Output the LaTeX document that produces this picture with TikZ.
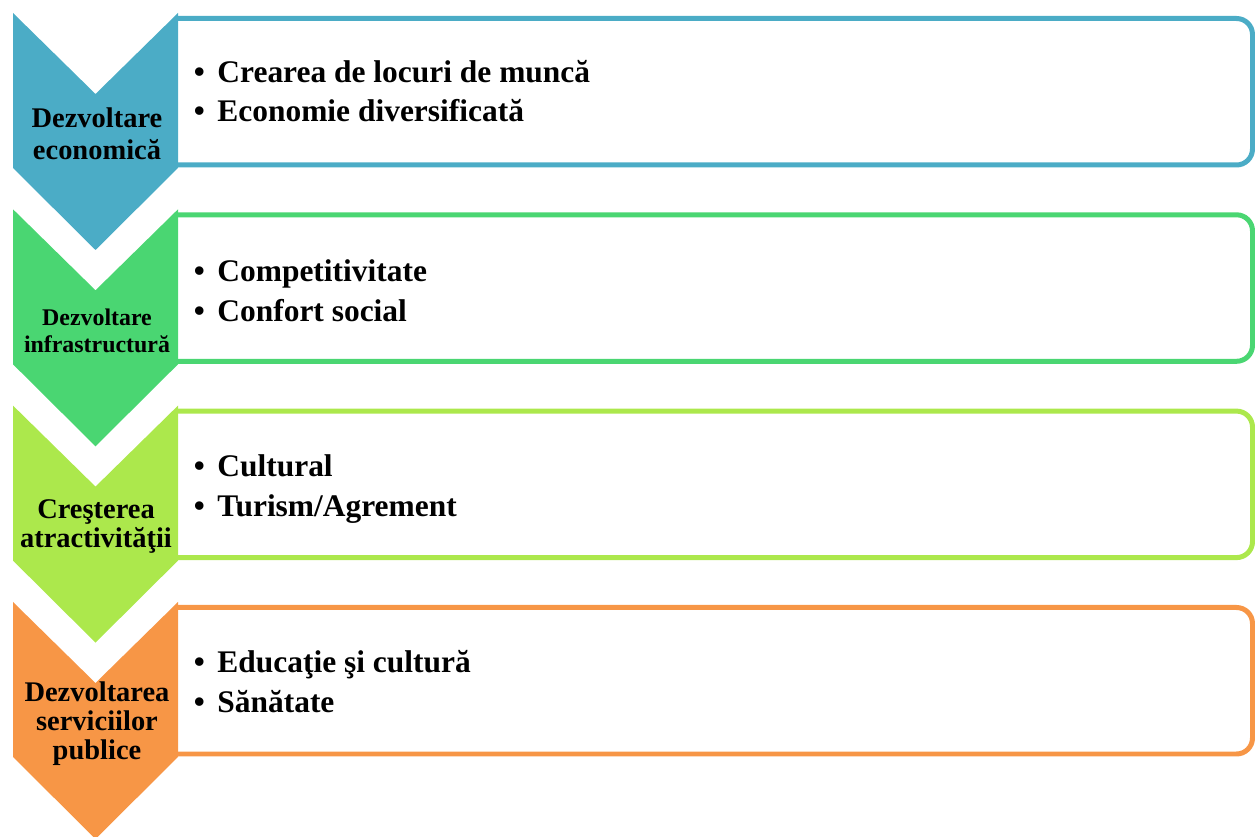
\documentclass[tikz,border=0pt]{standalone}
\usepackage{fontspec}
\setmainfont{Liberation Serif}
\definecolor{ecoblue}{HTML}{4BACC6}
\definecolor{infgreen}{HTML}{4AD672}
\definecolor{atrlime}{HTML}{ACE84C}
\definecolor{servorange}{HTML}{F79646}

\begin{document}
\begin{tikzpicture}[x=0.02cm, y=-0.02cm,
    lbl/.style={align=center, inner sep=0, font=\fontsize{16}{18}\selectfont\bfseries},
    item/.style={anchor=base west, inner sep=0, font=\fontsize{17.9}{22}\selectfont\bfseries},
    boxline/.style={line width=0.1cm, rounded corners=0.32cm}]
      \useasboundingbox (0,0) rectangle (1255,837);

      % Boxes
      \draw[boxline, ecoblue] (178,18.5) -- (1252.5,18.5) -- (1252.5,165) -- (178,165);
      \draw[boxline, infgreen] (178,214.8) -- (1252.5,214.8) -- (1252.5,361.3) -- (178,361.3);
      \draw[boxline, atrlime] (178,411.1) -- (1252.5,411.1) -- (1252.5,557.6) -- (178,557.6);
      \draw[boxline, servorange] (178,607.5) -- (1252.5,607.5) -- (1252.5,754) -- (178,754);

      % Chevrons
      \fill[ecoblue] (13,13) -- (95.5,94) -- (178,13) -- (178,168) -- (95.5,250) -- (13,168) -- cycle;
      \fill[infgreen] (13,209.3) -- (95.5,290.3) -- (178,209.3) -- (178,364.3) -- (95.5,446.3) -- (13,364.3) -- cycle;
      \fill[atrlime] (13,405.6) -- (95.5,486.6) -- (178,405.6) -- (178,560.6) -- (95.5,642.6) -- (13,560.6) -- cycle;
      \fill[servorange] (13,602) -- (95.5,683) -- (178,602) -- (178,757) -- (95.5,839) -- (13,757) -- cycle;

      % Labels
      \node[lbl, font=\fontsize{16.2}{18.1}\selectfont\bfseries] (eco) at (97,134) {Dezvoltare\\economică};
      \node[lbl, font=\fontsize{13.6}{15.3}\selectfont\bfseries] (inf) at (97,331) {Dezvoltare\\infrastructură};
      \node[lbl, font=\fontsize{16.2}{17}\selectfont\bfseries] (atr) at (96,526.5) {Creşterea\\atractivităţii};
      \node[lbl, font=\fontsize{16.2}{16.4}\selectfont\bfseries] (serv) at (97,723.5) {Dezvoltarea\\serviciilor\\publice};

      % Items
      \node[item] (eco1) at (193.5,82.5) {•\hspace{0.4em}Crearea de locuri de muncă};
      \node[item] (eco2) at (193.5,122) {•\hspace{0.4em}Economie diversificată};
      \node[item] (inf1) at (193.5,282) {•\hspace{0.4em}Competitivitate};
      \node[item] (inf2) at (193.5,322) {•\hspace{0.4em}Confort social};
      \node[item] (atr1) at (193.5,477) {•\hspace{0.4em}Cultural};
      \node[item] (atr2) at (193.5,516.5) {•\hspace{0.4em}Turism/Agrement};
      \node[item] (serv1) at (193.5,673) {•\hspace{0.4em}Educaţie şi cultură};
      \node[item] (serv2) at (193.5,713) {•\hspace{0.4em}Sănătate};
\end{tikzpicture}
\end{document}
